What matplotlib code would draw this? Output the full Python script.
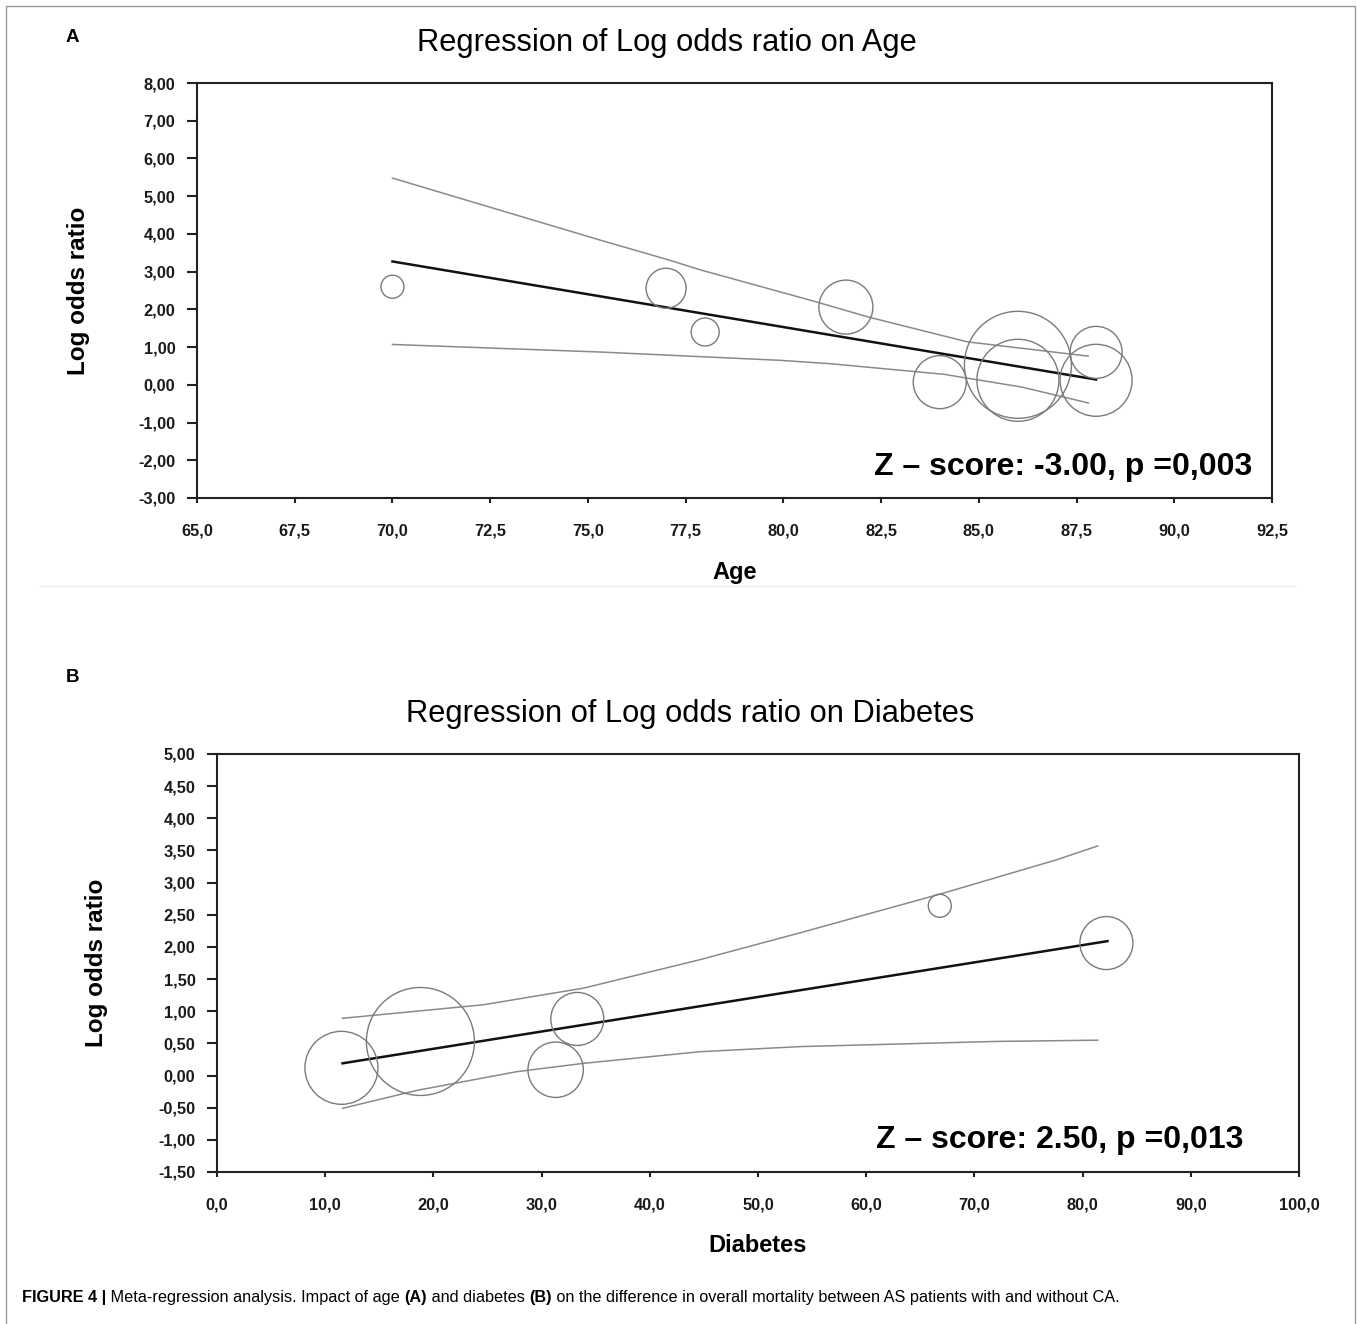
import numpy as np
import matplotlib.pyplot as plt
from matplotlib.ticker import FixedLocator, FuncFormatter
from matplotlib.lines import Line2D

plt.rcParams['font.family'] = ['Liberation Sans', 'DejaVu Sans']

# panel A: log odds ratio vs age
age_x = [70.0, 77.0, 78.0, 81.6, 84.0, 86.0, 86.0, 88.0, 88.0]
age_y = [2.60, 2.56, 1.40, 2.06, 0.07, 0.53, 0.12, 0.86, 0.12]
age_weight = [11.5, 20.0, 14.0, 27.0, 26.5, 53.5, 41.0, 26.0, 36.0]
age_fit_x = [70.0, 88.0]
age_fit_y = [3.27, 0.14]
age_up_x = [70.0, 75.3, 77.1, 77.9, 80.7, 82.2, 84.7, 87.8]
age_up_y = [5.48, 3.84, 3.30, 3.04, 2.24, 1.79, 1.14, 0.76]
age_lo_x = [70.0, 75.3, 79.9, 81.2, 84.1, 86.1, 87.8]
age_lo_y = [1.07, 0.87, 0.65, 0.56, 0.28, -0.06, -0.48]
age_xticks = [65.0, 67.5, 70.0, 72.5, 75.0, 77.5, 80.0, 82.5, 85.0, 87.5, 90.0, 92.5]
age_yticks = [8, 7, 6, 5, 4, 3, 2, 1, 0, -1, -2, -3]

# panel B: log odds ratio vs diabetes
dia_x = [11.5, 18.8, 31.3, 33.3, 66.8, 82.2]
dia_y = [0.12, 0.53, 0.09, 0.88, 2.64, 2.06]
dia_weight = [36.5, 54.0, 27.7, 26.5, 11.5, 26.5]
dia_fit_x = [11.6, 82.3]
dia_fit_y = [0.19, 2.09]
dia_up_x = [11.6, 24.6, 33.9, 44.6, 53.9, 67.0, 77.5, 81.4]
dia_up_y = [0.89, 1.10, 1.36, 1.80, 2.22, 2.83, 3.35, 3.57]
dia_lo_x = [11.6, 18.5, 27.7, 33.9, 44.6, 53.9, 71.9, 81.4]
dia_lo_y = [-0.51, -0.23, 0.06, 0.19, 0.37, 0.45, 0.53, 0.55]
dia_xticks = [0, 10, 20, 30, 40, 50, 60, 70, 80, 90, 100]
dia_yticks = [5.0, 4.5, 4.0, 3.5, 3.0, 2.5, 2.0, 1.5, 1.0, 0.5, 0.0, -0.5, -1.0, -1.5]

W, H = 1357, 1324
DPI = 100
fig = plt.figure(figsize=(W / DPI, H / DPI), dpi=DPI)


def comma(fmt):
    return FuncFormatter(lambda v, p: (fmt % v).replace('.', ','))


def draw_panel(rect, xs, ys, weight, fit_x, fit_y, up_x, up_y, lo_x, lo_y,
               xticks, yticks, xlabel, note):
    ax = fig.add_axes(rect)
    ax.plot(up_x, up_y, color='#8a8a8a', lw=1.1)
    ax.plot(lo_x, lo_y, color='#8a8a8a', lw=1.1)
    ax.plot(fit_x, fit_y, color='#111111', lw=1.8)
    size = (2 * np.array(weight) * 72.0 / DPI) ** 2
    ax.scatter(xs, ys, s=size, facecolors='none', edgecolors='#7a7a7a', linewidths=1.0, zorder=3)

    ax.set_xlim(xticks[0], xticks[-1])
    ax.set_ylim(yticks[-1], yticks[0])
    ax.xaxis.set_major_locator(FixedLocator(xticks))
    ax.yaxis.set_major_locator(FixedLocator(yticks))
    ax.xaxis.set_major_formatter(comma('%.1f'))
    ax.yaxis.set_major_formatter(comma('%.2f'))
    for s in ax.spines.values():
        s.set_linewidth(1.5)
        s.set_color('#222222')
    ax.tick_params(axis='y', length=7, width=1.5, color='#222222', pad=8.5, labelsize=11.8)
    ax.tick_params(axis='x', length=3.5, width=1.5, color='#222222', pad=15, labelsize=11.8)
    for lab in ax.get_xticklabels() + ax.get_yticklabels():
        lab.set_fontweight('bold')
        lab.set_color('#1a1a1a')
    ax.set_xlabel(xlabel, fontsize=17, fontweight='bold', va='center')
    ax.set_ylabel('Log odds ratio', fontsize=17.5, fontweight='bold', va='center')
    ax.text(note[0], note[1], note[2], transform=ax.transAxes, ha='right', va='baseline',
            fontsize=23, fontweight='bold')
    return ax


axA = draw_panel([197 / W, 1 - 498 / H, 1075 / W, 415 / H],
                 age_x, age_y, age_weight, age_fit_x, age_fit_y,
                 age_up_x, age_up_y, age_lo_x, age_lo_y,
                 age_xticks, age_yticks, 'Age',
                 (0.982, 0.055, 'Z \u2013 score: -3.00, p =0,003'))
axA.xaxis.set_label_coords(538 / 1075, -74 / 415)
axA.yaxis.set_label_coords(-119 / 1075, 0.5)

axB = draw_panel([217 / W, 1 - 1172 / H, 1082 / W, 418 / H],
                 dia_x, dia_y, dia_weight, dia_fit_x, dia_fit_y,
                 dia_up_x, dia_up_y, dia_lo_x, dia_lo_y,
                 dia_xticks, dia_yticks, 'Diabetes',
                 (0.949, 0.057, 'Z \u2013 score: 2.50, p =0,013'))
axB.xaxis.set_label_coords(0.5, -73 / 418)
axB.yaxis.set_label_coords(-120 / 1082, 0.5)

# titles and panel letters
fig.text(667 / W, 1 - 43 / H, 'Regression of Log odds ratio on Age', ha='center', va='center', fontsize=22.2)
fig.text(690 / W, 1 - 714 / H, 'Regression of Log odds ratio on Diabetes', ha='center', va='center', fontsize=22.2)
fig.text(66 / W, 1 - 38 / H, 'A', ha='left', va='center', fontsize=13.5, fontweight='bold')
fig.text(66 / W, 1 - 678 / H, 'B', ha='left', va='center', fontsize=13.5, fontweight='bold')

# frame and separator
fig.add_artist(Line2D([6 / W, 6 / W, 1355 / W, 1355 / W], [0, 1 - 6 / H, 1 - 6 / H, 0],
                      transform=fig.transFigure, color='#9a9a9a', lw=1.0))
fig.add_artist(Line2D([40 / W, 1295 / W], [1 - 586 / H, 1 - 586 / H],
                      transform=fig.transFigure, color='#eeeeee', lw=1.0))

# caption built from runs of regular and bold text
caption = [('FIGURE 4 |', 'bold'), (' Meta-regression analysis. Impact of age ', 'normal'),
           ('(A)', 'bold'), (' and diabetes ', 'normal'), ('(B)', 'bold'),
           (' on the difference in overall mortality between AS patients with and without CA.', 'normal')]
renderer = fig.canvas.get_renderer()
x = 22
for txt, wt in caption:
    t = fig.text(x / W, 1 - 1302 / H, txt, ha='left', va='baseline', fontsize=11.7, fontweight=wt)
    bb = t.get_window_extent(renderer)
    x += bb.width

fig.savefig('out.png', dpi=DPI)
